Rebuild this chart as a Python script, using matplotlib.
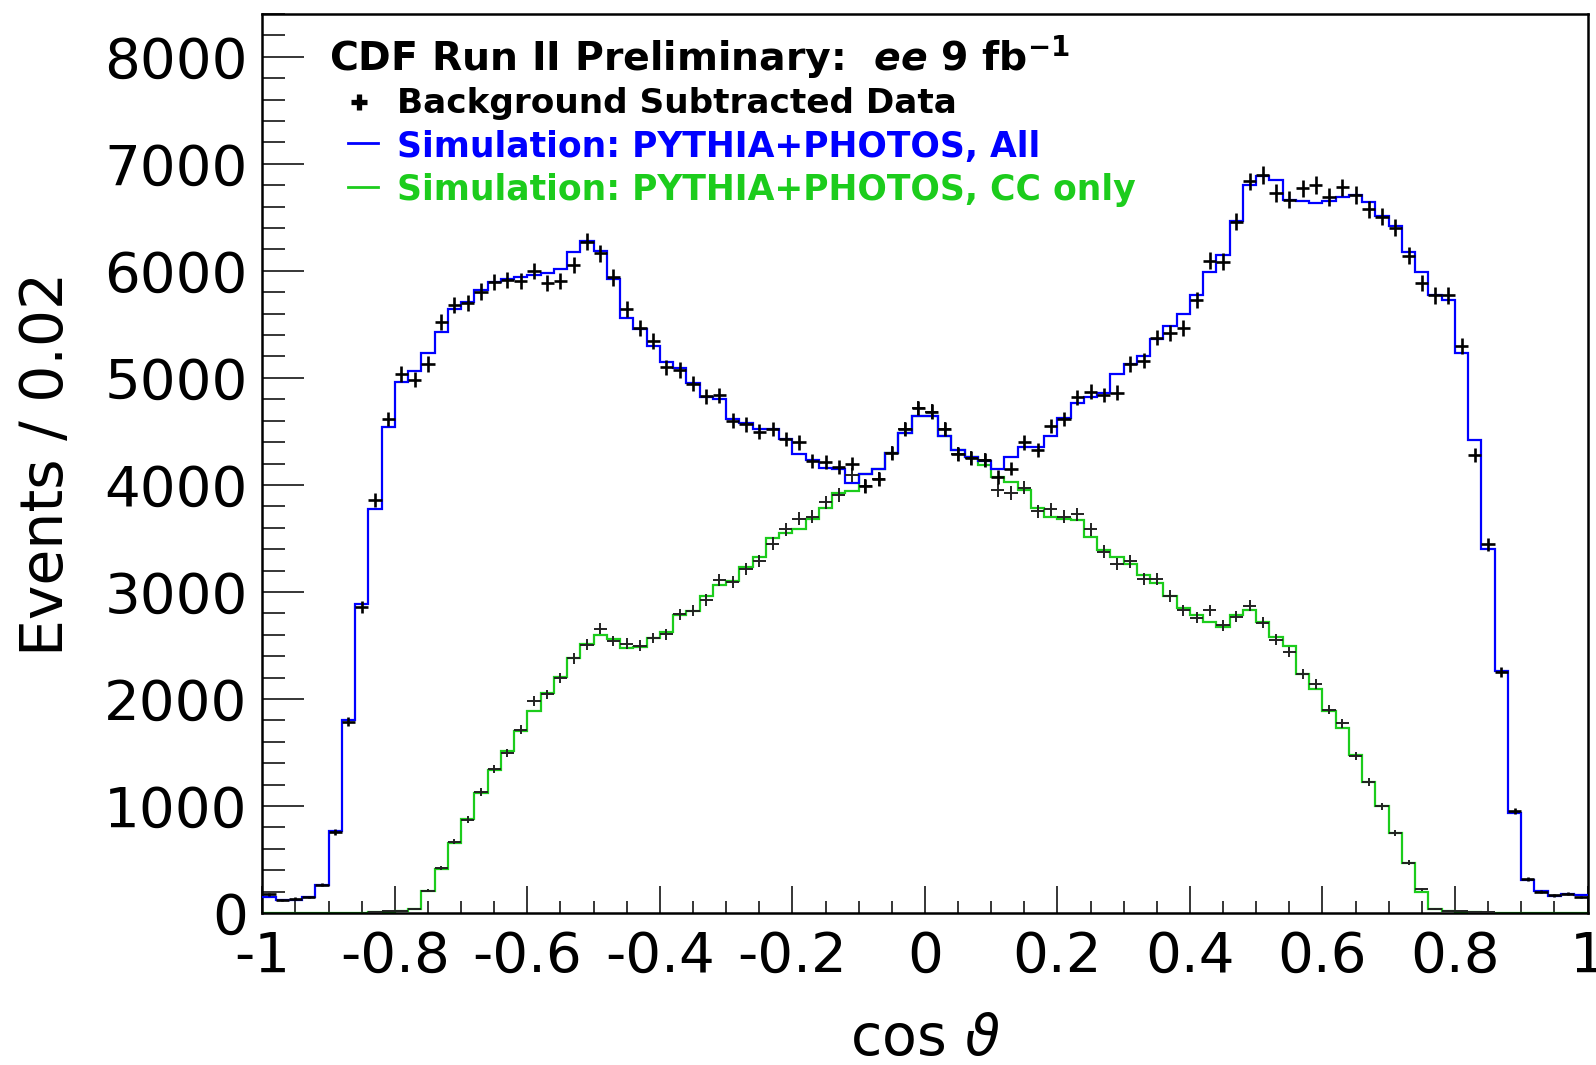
import numpy as np
import matplotlib
matplotlib.use("Agg")
import matplotlib.pyplot as plt
from matplotlib.lines import Line2D
from matplotlib.ticker import MultipleLocator, FixedLocator, FixedFormatter

plt.rcParams['font.family'] = ['DejaVu Sans']
plt.rcParams['mathtext.fontset'] = 'dejavusans'

# ---------------- data ----------------
x_min, x_max, n_bins = -1.0, 1.0, 100

mc_all = [147, 121, 121, 147, 262, 765, 1806, 2886, 3772, 4538,
          4959, 5067, 5230, 5432, 5647, 5712, 5819, 5897, 5927, 5940,
          5957, 5983, 6013, 6172, 6280, 6185, 5927, 5561, 5454, 5300,
          5150, 5090, 4950, 4819, 4802, 4616, 4583, 4525, 4525, 4430,
          4288, 4234, 4160, 4153, 4018, 4099, 4153, 4295, 4481, 4640,
          4640, 4457, 4322, 4261, 4227, 4153, 4261, 4356, 4356, 4457,
          4626, 4768, 4819, 4863, 5037, 5129, 5206, 5366, 5481, 5595,
          5770, 5990, 6150, 6470, 6800, 6885, 6850, 6665, 6650, 6630,
          6650, 6690, 6710, 6640, 6515, 6420, 6180, 5990, 5770, 5725,
          5230, 4415, 3399, 2265, 938, 305, 203, 160, 175, 165]

mc_cc = [0, 0, 0, 0, 0, 0, 0, 0, 8, 12,
         18, 34, 206, 409, 658, 882, 1123, 1333, 1518, 1703,
         1884, 2056, 2206, 2387, 2516, 2594, 2559, 2473, 2486, 2572,
         2630, 2780, 2826, 2959, 3061, 3105, 3230, 3331, 3500, 3551,
         3592, 3686, 3781, 3923, 3940, 4099, 4153, 4295, 4481, 4640,
         4640, 4457, 4322, 4261, 4190, 4075, 4025, 3957, 3781, 3703,
         3686, 3669, 3517, 3390, 3331, 3262, 3161, 3088, 2965, 2850,
         2782, 2722, 2676, 2782, 2827, 2722, 2576, 2493, 2233, 2095,
         1889, 1729, 1478, 1226, 997, 746, 471, 197, 37, 23,
         14, 8, 4, 0, 0, 0, 0, 0, 0, 0]

data_all = [175, 120, 135, 150, 265, 753, 1785, 2860, 3858, 4615,
            5037, 4981, 5131, 5518, 5682, 5699, 5806, 5897, 5914, 5905,
            6000, 5884, 5905, 6056, 6271, 6163, 5940, 5647, 5467, 5346,
            5100, 5073, 4944, 4829, 4836, 4600, 4566, 4498, 4525, 4430,
            4397, 4227, 4211, 4167, 4200, 3991, 4058, 4295, 4525, 4718,
            4684, 4525, 4288, 4254, 4234, 4075, 4153, 4397, 4329, 4549,
            4616, 4819, 4870, 4840, 4863, 5129, 5161, 5376, 5421, 5467,
            5725, 6095, 6085, 6460, 6835, 6895, 6725, 6665, 6770, 6800,
            6690, 6780, 6710, 6575, 6505, 6405, 6140, 5885, 5770, 5770,
            5300, 4278, 3445, 2255, 952, 315, 198, 164, 180, 148]

data_cc = [None, None, None, None, None, None, None, None, 10, 15,
           22, 40, 206, 421, 667, 873, 1131, 1346, 1497, 1712,
           1983, 2043, 2198, 2378, 2507, 2658, 2542, 2516, 2499, 2570,
           2604, 2790, 2824, 2925, 3111, 3095, 3213, 3287, 3450, 3585,
           3686, 3703, 3839, 3906, 4092, 3991, 4058, 4295, 4525, 4718,
           4684, 4525, 4288, 4254, 4234, 3950, 3923, 3974, 3754, 3771,
           3703, 3727, 3585, 3376, 3262, 3285, 3125, 3125, 2965, 2827,
           2759, 2827, 2690, 2768, 2873, 2713, 2553, 2438, 2233, 2141,
           1899, 1775, 1469, 1226, 997, 746, 471, 220, 37, 20,
           15, 10, 5, None, None, None, None, None, None, None]

x_ticks = [-1, -0.8, -0.6, -0.4, -0.2, 0, 0.2, 0.4, 0.6, 0.8, 1]
x_tick_labels = ["-1", "-0.8", "-0.6", "-0.4", "-0.2", "0", "0.2", "0.4", "0.6", "0.8", "1"]
y_ticks = [0, 1000, 2000, 3000, 4000, 5000, 6000, 7000, 8000]
y_tick_labels = ["0", "1000", "2000", "3000", "4000", "5000", "6000", "7000", "8000"]

BLUE = "#0000ff"
GREEN = "#1ccc1c"

# ---------------- figure ----------------
W, H = 1596, 1065
fig = plt.figure(figsize=(W / 100, H / 100), dpi=100)
ax = fig.add_axes([262.3 / W, 1 - 913 / H, (1587.5 - 262.3) / W, (913 - 14) / H])

edges = np.linspace(x_min, x_max, n_bins + 1)
centers = 0.5 * (edges[:-1] + edges[1:])
half_w = 0.5 * (edges[1] - edges[0])

ax.stairs(mc_cc, edges, color=GREEN, lw=1.6, zorder=2, baseline=None)
ax.stairs(mc_all, edges, color=BLUE, lw=1.6, zorder=3, baseline=None)

def draw_data(vals, lw, color, z):
    idx = [i for i, v in enumerate(vals) if v is not None]
    xs = centers[idx]
    ys = np.array([vals[i] for i in idx], dtype=float)
    ax.errorbar(xs, ys, xerr=half_w, yerr=np.sqrt(np.clip(ys, 0, None)),
                fmt='none', ecolor=color, elinewidth=lw, capsize=0, zorder=z)

draw_data(data_cc, 1.4, "#222222", 4)
draw_data(data_all, 1.9, "black", 5)

ax.set_xlim(x_min, x_max)
ax.set_ylim(0, 8400)

ax.xaxis.set_major_locator(FixedLocator(x_ticks))
ax.xaxis.set_major_formatter(FixedFormatter(x_tick_labels))
ax.xaxis.set_minor_locator(MultipleLocator(0.05))
ax.yaxis.set_major_locator(FixedLocator(y_ticks))
ax.yaxis.set_major_formatter(FixedFormatter(y_tick_labels))
ax.yaxis.set_minor_locator(MultipleLocator(200))

ax.tick_params(axis='both', which='both', direction='in', top=False, right=False,
               width=1.1, color='black')
ax.tick_params(axis='y', which='major', length=30, pad=10.5, labelsize=40.5)
ax.tick_params(axis='y', which='minor', length=16.5)
ax.tick_params(axis='x', which='major', length=19.5, pad=12, labelsize=40.5)
ax.tick_params(axis='x', which='minor', length=8.8)
for sp in ax.spines.values():
    sp.set_linewidth(1.8)
    sp.set_color('black')

# axis titles
fig.text(47 / W, 1 - 464 / H, "Events / 0.02", rotation=90, ha='center', va='center',
         fontsize=42)
fig.text(924.9 / W, 1 - 1055 / H, r"cos $\vartheta$", ha='center', va='baseline',
         fontsize=41)

# legend / header
fig.text(329 / W, 1 - 71 / H,
         r"CDF Run II Preliminary:  $\mathbfit{ee}$ 9 fb$^{\mathbf{-1}}$",
         ha='left', va='baseline', fontsize=28.4, fontweight='bold', color='black')
leg_x = 397 / W
fig.text(leg_x, 1 - 113.3 / H, "Background Subtracted Data", ha='left', va='baseline',
         fontsize=24.7, fontweight='bold', color='black')
fig.text(leg_x, 1 - 156.5 / H, "Simulation: PYTHIA+PHOTOS, All", ha='left', va='baseline',
         fontsize=24.9, fontweight='bold', color=BLUE)
fig.text(leg_x, 1 - 200 / H, "Simulation: PYTHIA+PHOTOS, CC only", ha='left', va='baseline',
         fontsize=24.9, fontweight='bold', color=GREEN)

fig.add_artist(Line2D([359.3 / W], [1 - 101.7 / H], marker='+', ms=11, mew=3.8,
                      color='black', linestyle='none'))
fig.add_artist(Line2D([348 / W, 378 / W], [1 - 142.7 / H] * 2, color=BLUE, lw=2))
fig.add_artist(Line2D([348 / W, 378 / W], [1 - 187.3 / H] * 2, color=GREEN, lw=2))

fig.savefig("out.png", dpi=100)
